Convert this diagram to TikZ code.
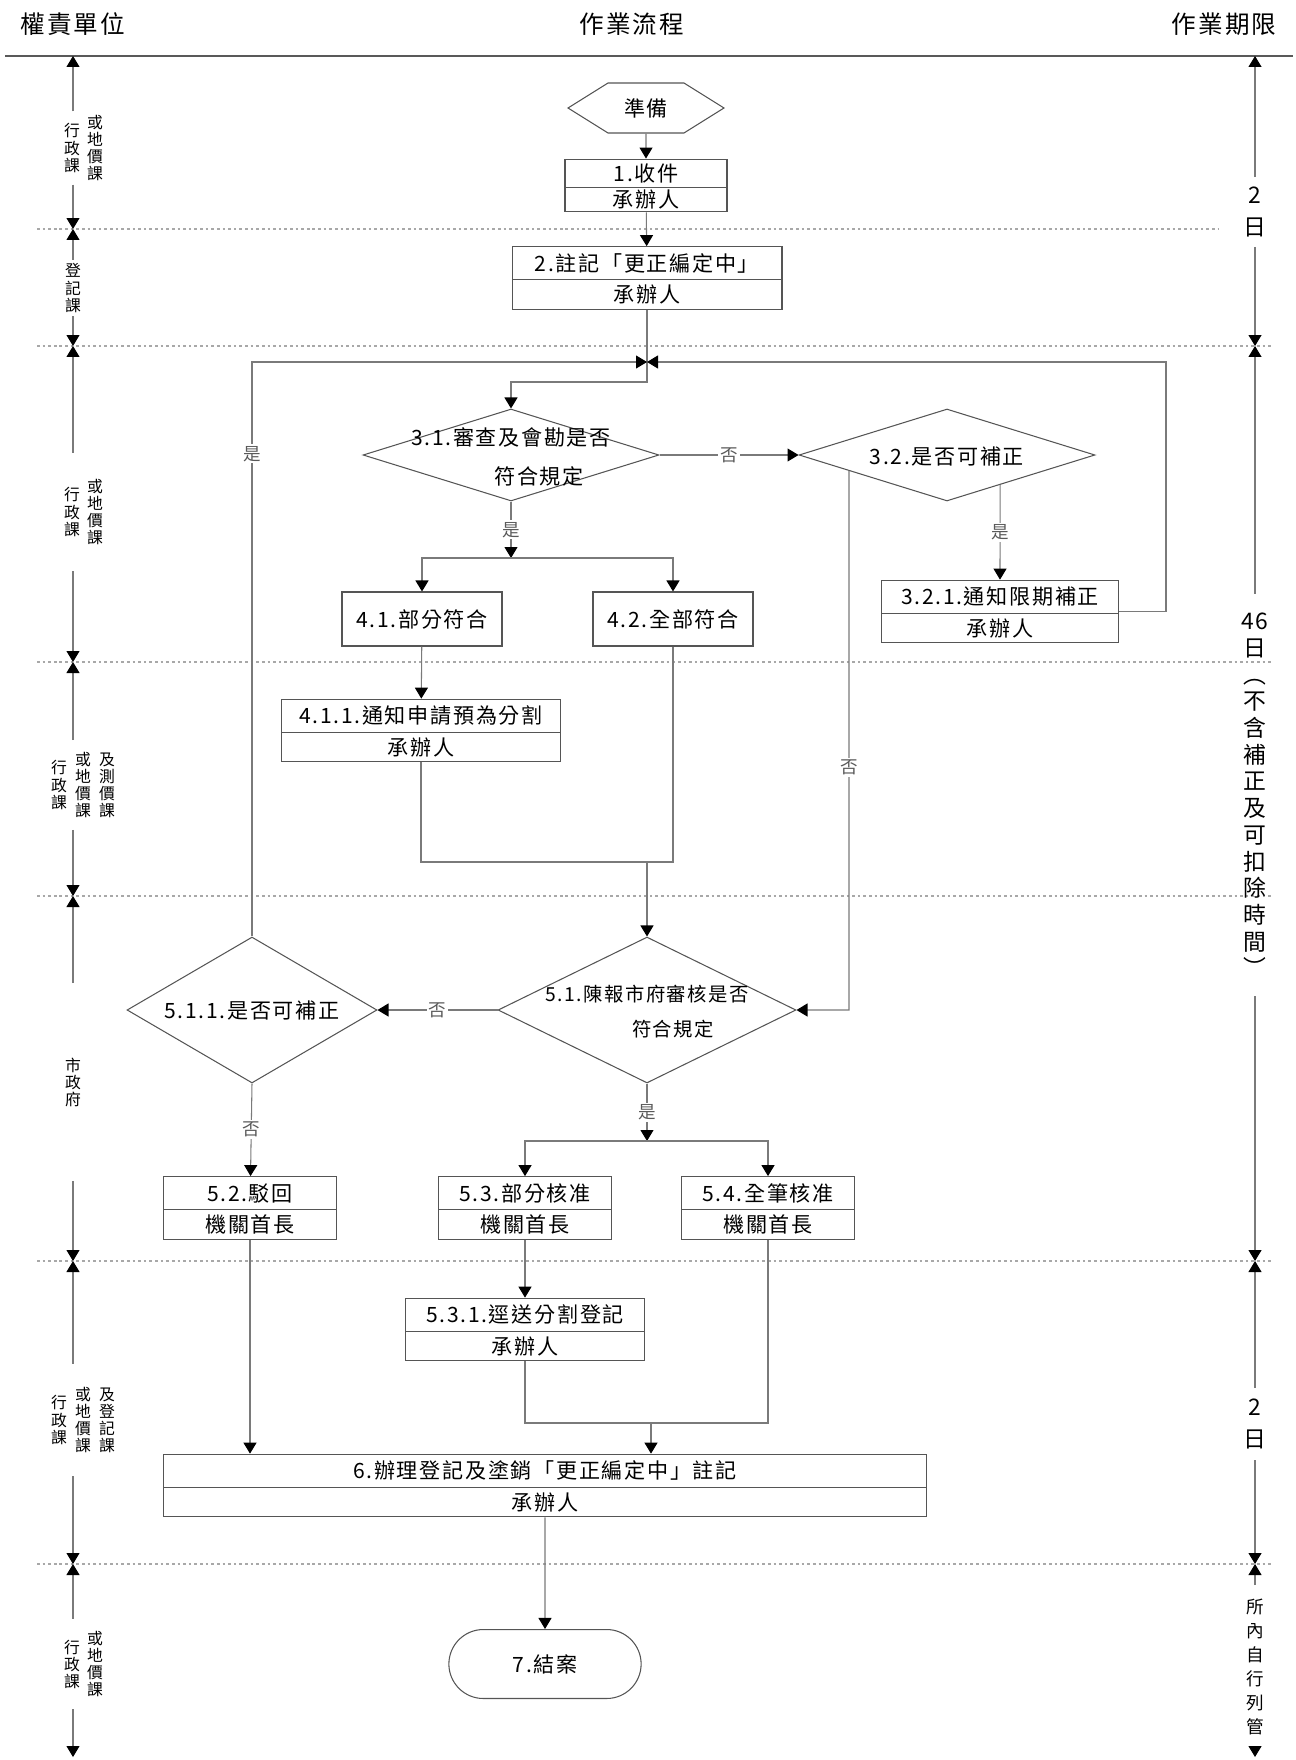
\documentclass[tikz,border=0pt]{standalone}
\usepackage{fontspec}
\setmainfont{Noto Sans CJK TC}[LetterSpace=8]
\usepackage{tikz}
\usetikzlibrary{shapes.geometric,shapes.misc,shapes.symbols,shapes.multipart,arrows.meta}
\definecolor{flowline}{HTML}{7A7A7A}
\definecolor{flowbox}{HTML}{555555}
\definecolor{flowband}{HTML}{A8A8A8}
\tikzset{
  hdr/.style={font=\fontsize{14}{16}\selectfont, inner sep=0pt},
  task/.style={rectangle split, rectangle split parts=2, draw=flowbox, line width=0.6pt, align=center, inner xsep=0pt, inner ysep=2.6pt, text height=11pt, text depth=2pt, font=\fontsize{12}{14}\selectfont},
  single/.style={rectangle, draw=flowbox, line width=0.6pt, minimum width=3.2cm, minimum height=1.08cm, align=center, font=\fontsize{12}{14}\selectfont},
  decision/.style={diamond, draw=flowbox, line width=0.6pt, inner sep=0pt},
  dtext/.style={align=center, inner sep=0pt, font=\fontsize{12}{14}\selectfont},
  prep/.style={signal, signal to=east and west, signal pointer angle=64, draw=flowbox, line width=0.6pt, minimum width=3.12cm, minimum height=1cm, font=\fontsize{12}{14}\selectfont},
  stopbox/.style={rounded rectangle, draw=flowbox, line width=0.6pt, minimum width=4.08cm, minimum height=1.38cm, font=\fontsize{12}{14}\selectfont},
  flow/.style={draw=flowline, line width=0.6pt, -{Triangle[length=0.22cm,width=0.26cm,color=black]}},
  link/.style={draw=flowline, line width=0.6pt},
  yn/.style={fill=white, text=black!65, inner sep=1pt, font=\fontsize{10}{12}\selectfont},
  band/.style={draw=flowband, line width=0.6pt, dash pattern=on 1.5pt off 1.7pt},
  unit/.style={align=center, inner sep=2pt, font=\fontsize{9}{9.7}\selectfont},
  term/.style={align=center, inner sep=2pt, font=\fontsize{13}{18.2}\selectfont},
}
\begin{document}
\begin{tikzpicture}[x=0.02cm, y=-0.02cm]
  \useasboundingbox (0,0) rectangle (1295,1760);
  \node[hdr] (h1) at (73,24) {權責單位};
  \node[hdr] (h2) at (632,24) {作業流程};
  \node[hdr] (h3) at (1224,24) {作業期限};
  \draw[black!65, line width=0.9pt] (5,56) -- (1293,56);
  \draw[band] (37,229) -- (1218,229);
  \draw[band] (37,346) -- (1272,346);
  \draw[band] (37,662) -- (1272,662);
  \draw[band] (37,896) -- (1272,896);
  \draw[band] (37,1261) -- (1272,1261);
  \draw[band] (37,1564) -- (1272,1564);
  \coordinate (l0) at (73,56);
  \coordinate (l1) at (73,229);
  \coordinate (l2) at (73,346);
  \coordinate (l3) at (73,662);
  \coordinate (l4) at (73,896);
  \coordinate (l5) at (73,1261);
  \coordinate (l6) at (73,1564);
  \coordinate (l7) at (73,1757);
  \coordinate (r0) at (1255,56);
  \coordinate (r2) at (1255,346);
  \coordinate (r5) at (1255,1261);
  \coordinate (r6) at (1255,1564);
  \coordinate (r7) at (1255,1757);
  \node[unit] (L1a) at (72,148) {行\\政\\課};
  \node[unit] (L1b) at (95,148) {或\\地\\價\\課};
  \node[unit] (L2) at (73,288) {登\\記\\課};
  \node[unit] (L3a) at (72,512) {行\\政\\課};
  \node[unit, minimum height=2.36cm] (L3b) at (95,512) {或\\地\\價\\課};
  \node[unit] (L4a) at (59,785) {行\\政\\課};
  \node[unit, minimum height=1.78cm] (L4b) at (83,785) {或\\地\\價\\課};
  \node[unit] (L4c) at (107,785) {及\\測\\價\\課};
  \node[unit, minimum height=3.94cm] (L5) at (73,1082) {市\\政\\府};
  \node[unit] (L6a) at (59,1420) {行\\政\\課};
  \node[unit, minimum height=2.24cm] (L6b) at (83,1420) {或\\地\\價\\課};
  \node[unit] (L6c) at (107,1420) {及\\登\\記\\課};
  \node[unit] (L7a) at (72,1664) {行\\政\\課};
  \node[unit, minimum height=1.8cm] (L7b) at (95,1664) {或\\地\\價\\課};
  \draw[flow] (L1b.north -| l0) -- (l0);
  \draw[flow] (L1b.south -| l1) -- (l1);
  \draw[flow] (L2.north -| l1) -- (l1);
  \draw[flow] (L2.south -| l2) -- (l2);
  \draw[flow] (L3b.north -| l2) -- (l2);
  \draw[flow] (L3b.south -| l3) -- (l3);
  \draw[flow] (L4b.north -| l3) -- (l3);
  \draw[flow] (L4b.south -| l4) -- (l4);
  \draw[flow] (L5.north -| l4) -- (l4);
  \draw[flow] (L5.south -| l5) -- (l5);
  \draw[flow] (L6b.north -| l5) -- (l5);
  \draw[flow] (L6b.south -| l6) -- (l6);
  \draw[flow] (L7b.north -| l6) -- (l6);
  \draw[flow] (L7b.south -| l7) -- (l7);
  \node[term, minimum height=1.38cm] (R1) at (1255,212) {2\\日};
  \node[term, minimum height=8.04cm, font=\fontsize{13}{15.2}\selectfont] (R2) at (1255,795) {46\\日\\︵\\不\\含\\補\\正\\及\\可\\扣\\除\\時\\間\\︶};
  \node[term, minimum height=1.44cm] (R3) at (1255,1424) {2\\日};
  \node[term, minimum height=3.26cm, font=\fontsize{10}{13.7}\selectfont] (R4) at (1255,1667) {所\\內\\自\\行\\列\\管};
  \draw[flow] (R1.north) -- (r0);
  \draw[flow] (R1.south) -- (r2);
  \draw[flow] (R2.north) -- (r2);
  \draw[flow] (R2.south) -- (r5);
  \draw[flow] (R3.north) -- (r5);
  \draw[flow] (R3.south) -- (r6);
  \draw[flow] (R4.north) -- (r6);
  \draw[flow] (R4.south) -- (r7);
  \node[prep] (prep) at (646,108) {準備};
  \node[task, text width=3.24cm, inner ysep=1.2pt] (s1) at (646,185.5) {1.收件\nodepart{two}承辦人};
  \node[task, text width=5.4cm] (s2) at (647,278) {2.註記「更正編定中」\nodepart{two}承辦人};
  \node[decision, minimum width=5.92cm, minimum height=1.84cm] (d31) at (511,455) {};
  \node[dtext] (d31t) at (511,457) {3.1.審查及會勘是否\\[8pt]\hspace*{1.12cm}符合規定};
  \node[decision, minimum width=5.92cm, minimum height=1.84cm] (d32) at (947,455) {};
  \node[dtext] (d32t) at (947,456) {3.2.是否可補正};
  \node[task, text width=4.74cm] (s321) at (1000,611.5) {3.2.1.通知限期補正\nodepart{two}承辦人};
  \node[single] (s41) at (422,619) {4.1.部分符合};
  \node[single] (s42) at (673,619) {4.2.全部符合};
  \node[task, text width=5.58cm] (s411) at (421,730.5) {4.1.1.通知申請預為分割\nodepart{two}承辦人};
  \node[decision, minimum width=5.96cm, minimum height=2.92cm] (d51) at (647,1010) {};
  \node[dtext, font=\fontsize{11}{13.5}\selectfont] (d51t) at (647,1012) {5.1.陳報市府審核是否\\[6.5pt]\hspace*{1.04cm}符合規定};
  \node[decision, minimum width=5cm, minimum height=2.92cm] (d511) at (252,1010) {};
  \node[dtext] (d511t) at (252,1010) {5.1.1.是否可補正};
  \node[task, text width=3.46cm] (s52) at (250,1208) {5.2.駁回\nodepart{two}機關首長};
  \node[task, text width=3.46cm] (s53) at (525,1208) {5.3.部分核准\nodepart{two}機關首長};
  \node[task, text width=3.46cm] (s54) at (768,1208) {5.4.全筆核准\nodepart{two}機關首長};
  \node[task, text width=4.78cm] (s531) at (525,1329.5) {5.3.1.逕送分割登記\nodepart{two}承辦人};
  \node[task, text width=15.26cm] (s6) at (545,1485.5) {6.辦理登記及塗銷「更正編定中」註記\nodepart{two}承辦人};
  \node[stopbox] (stop) at (545,1664) {7.結案};
  \coordinate (jn) at (647,362);
  \coordinate (jt) at (647,382);
  \coordinate (jb) at (511,558);
  \coordinate (jm) at (647,862);
  \coordinate (nx) at (849,1010);
  \coordinate (jc) at (647,1141);
  \coordinate (jr) at (651,1423);
  \draw[flow] (prep) -- (s1);
  \draw[flow] (s1) -- (s2);
  \draw[flow] (s2.south) -- (jt) -| (d31.north);
  \draw[flow] (s321.east) -- ++(47,0) |- (jn);
  \draw[flow] (d511.north) |- node[yn, pos=0.42]{是} (jn);
  \draw[flow] (d31.east) -- node[yn]{否} (d32.west);
  \draw[flow] (intersection of d32.south--d32.east and s321.north--s321.south) -- node[yn]{是} (s321.north);
  \draw[flow] (intersection of d32.west--d32.south and nx--nx|-jn) -- node[yn, pos=0.55]{否} (nx) -- (d51.east);
  \draw[flow] (d31.south) -- node[yn]{是} (jb);
  \draw[flow] (jb) -| (s41);
  \draw[flow] (jb) -| (s42);
  \draw[flow] (s41) -- (s411);
  \draw[link] (s411.south) |- (s42.south |- jm) -- (s42.south);
  \draw[flow] (jm) -- (d51.north);
  \draw[flow] (d51.west) -- node[yn]{否} (d511.east);
  \draw[flow] (d511.south) -- node[yn]{否} (s52);
  \draw[flow] (d51.south) -- node[yn]{是} (jc);
  \draw[flow] (jc) -| (s53);
  \draw[flow] (jc) -| (s54);
  \draw[flow] (s53) -- (s531);
  \draw[link] (s531.south) |- (s54.south |- jr) -- (s54.south);
  \draw[flow] (jr) -- (jr |- s6.north);
  \draw[flow] (s52) -- (s52 |- s6.north);
  \draw[flow] (s6) -- (stop);
\end{tikzpicture}
\end{document}
